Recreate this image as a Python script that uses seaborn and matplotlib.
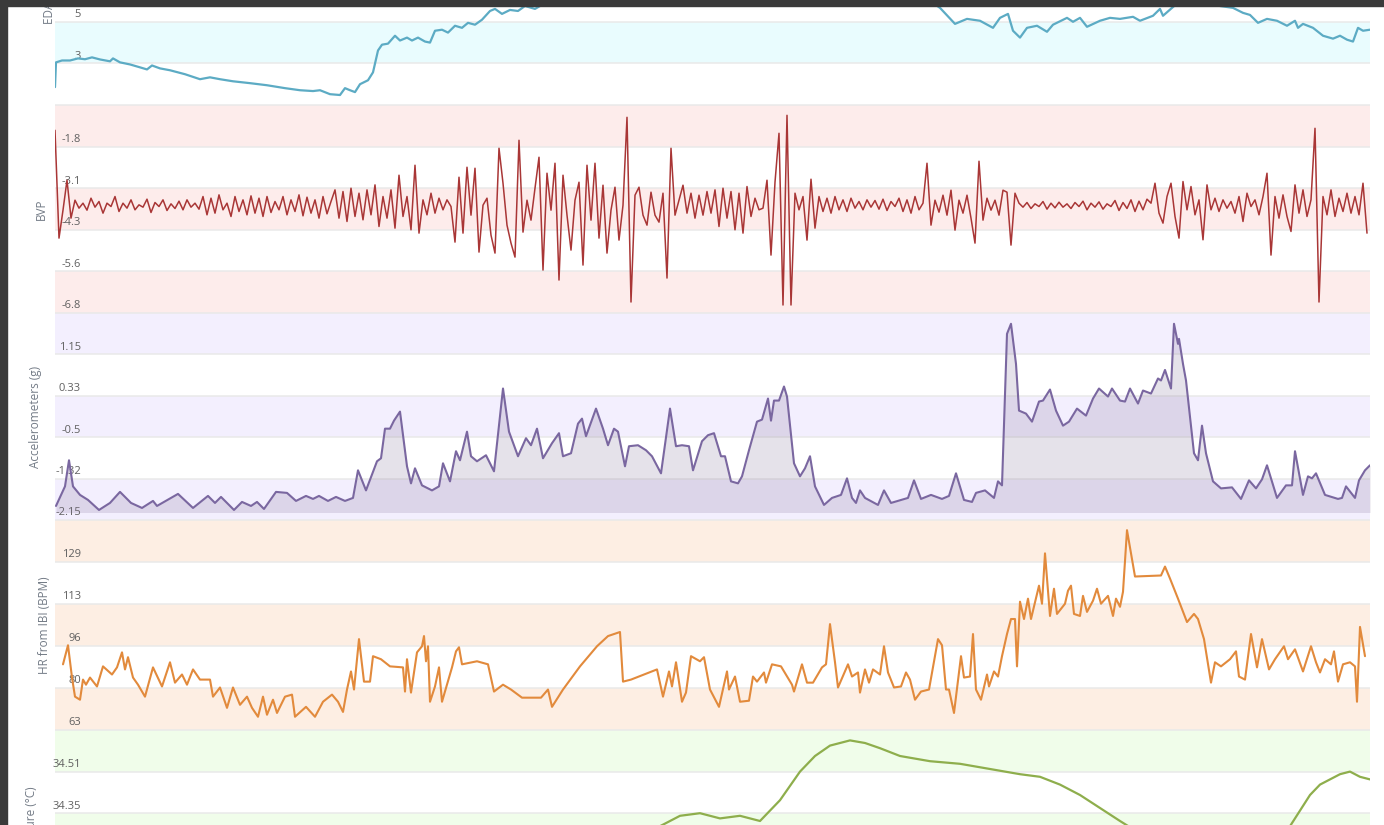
import numpy as np
import matplotlib
matplotlib.use("Agg")
import matplotlib.pyplot as plt
from matplotlib.patches import Rectangle
import seaborn as sns

# -----------------------------------------------------------------------------
# Data (time in seconds, values in sensor units)
# -----------------------------------------------------------------------------
EDA_POINTS = [
    (0, 1.86), (1, 3.05), (7, 3.14), (15, 3.14), (23, 3.24), (30, 3.20), (37, 3.29),
    (45, 3.19), (55, 3.10), (58, 3.24), (65, 3.05), (75, 2.95), (85, 2.81), (92, 2.71),
    (97, 2.90), (105, 2.76), (115, 2.67), (130, 2.48), (145, 2.24), (155, 2.33),
    (165, 2.24), (178, 2.14), (195, 2.05), (212, 1.95), (230, 1.81), (245, 1.71),
    (258, 1.67), (265, 1.71), (275, 1.52), (285, 1.48), (290, 1.81), (295, 1.71),
    (300, 1.62), (305, 2.00), (313, 2.19), (318, 2.57), (323, 3.62), (327, 3.90),
    (333, 3.95), (340, 4.33), (345, 4.10), (352, 4.24), (357, 4.10), (363, 4.24),
    (370, 4.05), (375, 4.00), (380, 4.57), (387, 4.62), (393, 4.48), (400, 4.81),
    (407, 4.71), (413, 4.95), (420, 4.86), (427, 5.10), (435, 5.52), (440, 5.62),
    (447, 5.38), (455, 5.57), (463, 5.52), (470, 5.76), (480, 5.62), (490, 5.90),
    (505, 6.20), (545, 6.50), (645, 6.80), (745, 7.00), (845, 6.60), (875, 6.00),
    (885, 5.67), (900, 4.90), (912, 5.14), (925, 5.05), (938, 4.71), (945, 5.19),
    (953, 5.38), (958, 4.57), (965, 4.24), (972, 4.71), (982, 4.81), (992, 4.52),
    (998, 4.86), (1012, 5.19), (1018, 5.00), (1025, 5.19), (1032, 4.76), (1045, 5.05),
    (1055, 5.19), (1065, 5.14), (1078, 5.24), (1085, 5.05), (1098, 5.29), (1105, 5.62),
    (1108, 5.29), (1117, 5.67), (1130, 6.20), (1145, 6.40), (1160, 6.00), (1165, 5.76),
    (1178, 5.67), (1188, 5.43), (1195, 5.33), (1203, 4.95), (1212, 5.14), (1222, 5.05),
    (1232, 4.81), (1240, 5.05), (1243, 4.71), (1248, 4.90), (1258, 4.71), (1268, 4.33),
    (1278, 4.19), (1285, 4.33), (1292, 4.14), (1298, 4.05), (1303, 4.71), (1308, 4.57),
    (1315, 4.62),
]

# BVP sampled every 4 s
BVP_STEP = 4
BVP_VALUES = [
    -1.31, -4.55, -3.71, -2.81, -3.95,
    -3.41, -3.65, -3.50, -3.71, -3.35, -3.62, -3.45, -3.80, -3.50, -3.60,
    -3.30, -3.75, -3.50, -3.65, -3.40, -3.70, -3.55, -3.62, -3.38, -3.78,
    -3.48, -3.60, -3.40, -3.72, -3.52, -3.66, -3.44, -3.70, -3.40, -3.62,
    -3.50, -3.68,
    -3.30, -3.85, -3.35, -3.80, -3.25, -3.70, -3.50, -3.90, -3.30, -3.75,
    -3.40, -3.85, -3.28, -3.80, -3.35, -3.90, -3.30, -3.78, -3.45, -3.70,
    -3.30, -3.85, -3.40, -3.75, -3.25, -3.88, -3.32, -3.80, -3.40, -3.95,
    -3.30, -3.82, -3.45,
    -3.10, -3.95, -3.15, -4.05, -3.05, -3.90, -3.20, -4.00, -3.10, -3.85, -2.95,
    -4.20, -3.30, -3.95, -3.10, -4.25, -2.66, -3.90, -3.30, -4.30, -2.36,
    -4.40, -3.40, -3.85, -3.20, -3.80, -3.35, -3.70, -3.40, -3.60,
    -4.67, -2.72, -4.40, -2.42, -3.86, -2.45, -4.97, -3.56, -3.35, -4.46,
    -5.00, -1.85, -2.90, -4.16, -4.70, -5.12, -1.61, -4.37, -3.41, -4.01,
    -3.05, -2.12, -5.51, -2.60, -3.71, -2.30, -5.81, -2.66, -3.86, -4.91,
    -3.41, -2.87, -5.36, -2.36, -4.01, -2.30, -4.55, -2.96, -5.00, -3.71,
    -3.02, -4.61, -3.56, -0.92, -6.47, -3.26, -3.02, -3.86, -4.16, -3.17,
    -3.86, -4.07, -3.20, -5.75, -1.85, -3.86, -3.41, -2.96,
    -3.80, -3.20, -3.95, -3.26, -3.86, -3.15, -3.80, -3.10, -4.20, -3.05,
    -3.95, -3.15, -4.30, -3.20, -4.40, -3.00, -3.90, -3.35, -3.70, -3.65,
    -2.81, -5.06, -2.87, -1.40, -6.56, -0.86, -6.56,
    -3.20, -3.70, -3.30, -4.61, -2.78, -4.25, -3.30, -3.75, -3.35, -3.80,
    -3.30, -3.70, -3.40, -3.75, -3.35, -3.65, -3.45, -3.70, -3.40, -3.62,
    -3.42, -3.68, -3.38, -3.72, -3.45, -3.60, -3.35, -3.75, -3.40, -3.80,
    -3.30, -3.70, -3.50,
    -2.30, -4.16, -3.41, -3.77, -3.26, -3.86, -3.11, -4.31, -3.41, -3.80,
    -3.26, -3.95, -4.70, -2.24, -4.01, -3.35, -3.71, -3.41, -3.86, -3.11,
    -3.17, -4.76, -3.20,
    -3.50, -3.62, -3.48, -3.66, -3.52, -3.60, -3.45, -3.68, -3.50, -3.64,
    -3.47, -3.62, -3.52, -3.66, -3.48, -3.60, -3.44, -3.70, -3.50, -3.62,
    -3.46, -3.68, -3.52, -3.60, -3.42, -3.72, -3.48, -3.66, -3.40, -3.75,
    -3.44, -3.70, -3.38,
    -3.50, -2.90, -3.80, -4.10, -3.30, -2.90, -3.90, -4.55, -2.85, -3.70,
    -3.00, -3.85, -3.40, -4.60, -2.95,
    -3.70, -3.35, -3.75, -3.40, -3.65, -3.45, -3.80, -3.30, -4.05, -3.20,
    -3.60, -3.40, -3.85, -3.30,
    -2.60, -5.06,
    -3.30, -3.95, -3.25, -3.90, -4.35, -2.95, -3.80, -3.10, -3.90, -3.40,
    -1.25, -6.47,
    -3.30, -3.85, -3.10, -3.90, -3.35, -3.75, -3.20, -3.80, -3.30, -3.85,
    -2.90, -4.40,
]

ACC_POINTS = [
    (1, -1.87), (10, -1.48), (14, -0.96), (18, -1.48), (25, -1.65), (33, -1.75),
    (44, -1.95), (55, -1.81), (65, -1.59), (76, -1.81), (87, -1.91), (98, -1.77),
    (102, -1.87), (123, -1.63), (138, -1.91), (153, -1.67), (160, -1.81), (166, -1.69),
    (179, -1.95), (187, -1.79), (196, -1.87), (202, -1.79), (209, -1.93), (221, -1.59),
    (232, -1.61), (241, -1.77), (251, -1.67), (258, -1.73), (264, -1.67), (273, -1.77),
    (281, -1.69), (290, -1.77), (298, -1.71), (303, -1.16), (311, -1.56), (322, -0.98),
    (326, -0.92), (330, -0.33), (335, -0.33), (339, -0.17), (345, 0.01), (352, -1.08),
    (356, -1.42), (360, -1.12), (367, -1.46), (377, -1.56), (384, -1.48), (388, -1.02),
    (395, -1.38), (401, -0.78), (405, -0.96), (412, -0.39), (416, -0.88), (422, -0.98),
    (431, -0.86), (439, -1.18), (448, 0.47), (454, -0.39), (463, -0.88), (471, -0.52),
    (476, -0.66), (482, -0.33), (488, -0.92), (497, -0.62), (504, -0.42), (508, -0.88),
    (516, -0.82), (523, -0.23), (527, -0.13), (531, -0.48), (541, 0.07), (548, -0.33),
    (553, -0.66), (559, -0.33), (563, -0.39), (570, -1.08), (574, -0.68), (583, -0.66),
    (591, -0.76), (597, -0.88), (606, -1.22), (615, 0.07), (621, -0.68), (627, -0.66),
    (634, -0.68), (638, -1.16), (647, -0.58), (653, -0.46), (659, -0.42), (666, -0.88),
    (670, -0.88), (676, -1.38), (683, -1.42), (687, -1.28), (694, -0.76), (702, -0.19),
    (707, -0.15), (713, 0.27), (716, -0.17), (719, 0.23), (724, 0.23), (729, 0.51),
    (732, 0.31), (739, -1.02), (745, -1.28), (750, -1.12), (755, -0.88), (760, -1.48),
    (769, -1.85), (777, -1.71), (786, -1.65), (792, -1.32), (797, -1.71), (801, -1.81),
    (805, -1.56), (810, -1.71), (823, -1.85), (829, -1.56), (836, -1.81), (853, -1.71),
    (859, -1.36), (866, -1.73), (876, -1.65), (887, -1.73), (894, -1.67), (901, -1.22),
    (909, -1.75), (917, -1.79), (921, -1.61), (930, -1.56), (939, -1.71), (943, -1.38),
    (947, -1.46), (952, 1.56), (956, 1.76), (961, 0.96), (964, 0.03), (971, -0.03),
    (977, -0.19), (984, 0.21), (988, 0.23), (995, 0.45), (1001, 0.03), (1008, -0.27),
    (1014, -0.19), (1022, 0.07), (1031, -0.07), (1038, 0.27), (1044, 0.47), (1053, 0.31),
    (1057, 0.47), (1065, 0.23), (1070, 0.21), (1075, 0.47), (1083, 0.17), (1088, 0.43),
    (1096, 0.37), (1103, 0.67), (1106, 0.63), (1110, 0.84), (1116, 0.47), (1119, 1.76),
    (1123, 1.36), (1124, 1.46), (1128, 0.96), (1131, 0.63), (1139, -0.82), (1143, -0.96),
    (1147, -0.27), (1151, -0.82), (1158, -1.38), (1166, -1.52), (1177, -1.50),
    (1186, -1.73), (1194, -1.36), (1201, -1.52), (1207, -1.34), (1212, -1.06),
    (1222, -1.71), (1231, -1.46), (1237, -1.46), (1240, -0.78), (1248, -1.65),
    (1253, -1.28), (1257, -1.32), (1261, -1.22), (1270, -1.65), (1283, -1.73),
    (1287, -1.71), (1291, -1.48), (1300, -1.71), (1304, -1.36), (1310, -1.16),
    (1315, -1.06),
]

HR_POINTS = [
    (8, 88.8), (13, 96.3), (17, 83.6), (20, 76.1), (25, 74.9), (28, 82.8), (31, 80.8),
    (35, 83.6), (42, 80.1), (48, 88.0), (57, 84.8), (62, 87.6), (67, 93.5), (70, 86.8),
    (73, 91.6), (78, 83.6), (83, 80.8), (90, 76.1), (98, 87.6), (107, 80.1), (115, 89.6),
    (120, 81.6), (127, 84.8), (132, 80.8), (138, 86.8), (145, 82.8), (155, 82.8),
    (158, 76.1), (165, 79.7), (172, 71.7), (178, 79.7), (185, 72.9), (192, 76.1),
    (197, 71.7), (203, 68.2), (208, 76.1), (212, 69.0), (218, 74.9), (222, 69.7),
    (230, 76.1), (237, 76.9), (240, 68.2), (251, 72.1), (260, 68.2), (268, 74.1),
    (277, 76.9), (283, 74.1), (288, 70.1), (292, 78.9), (296, 86.0), (299, 78.9),
    (304, 98.7), (309, 82.0), (315, 82.0), (318, 92.0), (326, 90.8), (335, 88.0),
    (348, 87.6), (350, 78.1), (352, 90.8), (356, 77.7), (362, 93.5), (367, 95.9),
    (369, 99.9), (371, 90.0), (373, 95.9), (375, 74.1), (380, 80.1), (384, 87.6),
    (387, 74.1), (392, 80.8), (397, 87.6), (401, 93.9), (404, 95.5), (407, 88.8),
    (422, 90.0), (433, 88.8), (439, 78.1), (448, 80.8), (456, 78.9), (467, 75.7),
    (486, 75.7), (493, 78.9), (497, 72.1), (508, 78.9), (525, 88.0), (542, 95.9),
    (553, 99.9), (565, 101.5), (568, 82.0), (576, 82.8), (597, 86.0), (602, 86.8),
    (608, 76.1), (614, 86.0), (617, 80.1), (621, 89.6), (627, 74.1), (631, 77.7),
    (636, 92.0), (645, 90.0), (649, 91.6), (655, 78.9), (664, 72.1), (672, 86.0),
    (674, 78.9), (680, 84.0), (685, 74.1), (694, 74.5), (698, 84.0), (702, 82.0),
    (709, 85.6), (711, 81.6), (717, 88.8), (726, 88.0), (737, 80.8), (739, 78.1),
    (747, 88.8), (752, 81.6), (758, 81.6), (767, 87.6), (771, 88.8), (775, 104.6),
    (780, 89.6), (783, 79.7), (793, 88.8), (797, 84.0), (803, 85.6), (805, 77.7),
    (810, 86.8), (814, 81.6), (818, 86.8), (825, 84.8), (829, 95.9), (833, 85.6),
    (839, 79.7), (846, 80.1), (851, 85.6), (855, 82.8), (860, 74.9), (866, 78.1),
    (874, 78.9), (883, 98.7), (887, 96.3), (891, 78.9), (894, 78.9), (899, 69.7),
    (906, 92.0), (909, 83.6), (915, 84.0), (918, 100.7), (921, 78.9), (926, 74.9),
    (932, 84.8), (934, 80.1), (939, 86.0), (943, 84.0), (947, 92.0), (952, 100.7),
    (956, 106.6), (960, 106.6), (962, 88.0), (965, 113.4), (969, 106.6), (973, 114.6),
    (976, 106.6), (984, 119.7), (987, 112.6), (990, 132.4), (995, 107.8), (999, 118.5),
    (1002, 108.6), (1010, 112.6), (1013, 117.7), (1016, 119.7), (1019, 108.6),
    (1025, 107.8), (1028, 115.7), (1032, 109.4), (1038, 113.8), (1042, 118.5),
    (1046, 112.6), (1053, 115.7), (1058, 107.8), (1061, 114.6), (1065, 111.4),
    (1068, 117.3), (1072, 141.5), (1080, 123.3), (1106, 123.7), (1110, 127.2),
    (1115, 122.5), (1123, 114.6), (1132, 105.4), (1139, 108.6), (1143, 106.6),
    (1149, 98.7), (1156, 81.6), (1160, 89.6), (1166, 88.0), (1175, 90.8), (1181, 93.9),
    (1184, 84.0), (1190, 82.8), (1196, 100.7), (1202, 87.6), (1207, 98.7), (1214, 86.8),
    (1220, 90.8), (1229, 95.9), (1233, 90.8), (1240, 94.7), (1248, 86.0), (1256, 95.9),
    (1261, 89.6), (1265, 85.6), (1270, 90.8), (1276, 88.8), (1279, 93.9), (1283, 82.0),
    (1288, 88.8), (1295, 89.6), (1300, 88.0), (1302, 74.1), (1305, 103.5), (1310, 92.0),
]

TEMP_POINTS = [
    (0, 34.05), (100, 34.08), (200, 34.10), (300, 34.12), (400, 34.16), (500, 34.20),
    (560, 34.24), (605, 34.30), (625, 34.34), (645, 34.35), (665, 34.33), (685, 34.34),
    (705, 34.32), (725, 34.40), (745, 34.51), (760, 34.57), (775, 34.61), (795, 34.63),
    (810, 34.62), (825, 34.60), (845, 34.57), (875, 34.55), (905, 34.54), (935, 34.52),
    (965, 34.50), (985, 34.49), (1005, 34.46), (1025, 34.42), (1045, 34.37),
    (1065, 34.32), (1090, 34.26), (1150, 34.20), (1200, 34.22), (1235, 34.30),
    (1255, 34.42), (1265, 34.46), (1285, 34.50), (1295, 34.51), (1305, 34.49),
    (1315, 34.48),
]

# axis ticks / labels for each channel (labels scrolled out of view are left blank)
EDA_TICKS = [1, 3, 5, 7, 9]
EDA_LABELS = ["", "3", "5", "", ""]
BVP_TICKS = [-6.8, -5.55, -4.3, -3.05, -1.8]
BVP_LABELS = ["-6.8", "-5.6", "-4.3", "-3.1", "-1.8"]
ACC_TICKS = [-2.15, -1.325, -0.5, 0.325, 1.15]
ACC_LABELS = ["-2.15", "-1.32", "-0.5", "0.33", "1.15"]
HR_TICKS = [63, 79.5, 96, 112.5, 129]
HR_LABELS = ["63", "80", "96", "113", "129"]
TEMP_TICKS = [33.87, 34.03, 34.19, 34.35, 34.51]
TEMP_LABELS = ["", "", "", "34.35", "34.51"]

# -----------------------------------------------------------------------------
# Layout (pixels of the 1384x825 canvas)
# -----------------------------------------------------------------------------
FIG_W, FIG_H = 1384, 825
PLOT_LEFT, PLOT_RIGHT = 55, 1370
TIME_MAX = 1315
LABEL_RIGHT = 81
GRID_COLOR = "#e9e9e9"
TEXT_COLOR = "#606060"

sns.set_style("white")
plt.rcParams["font.family"] = ["Open Sans", "DejaVu Sans"]

PANELS = [
    dict(name="EDA (\u03bcS)", top=-103, bottom=105, step=2.0, ticks=EDA_TICKS,
         labels=EDA_LABELS, bands=[1, 3], band_color="#e9fcfe",
         color="#5cabc4", lw=1.6, title_x=50, points=EDA_POINTS),
    dict(name="BVP", top=105, bottom=313, step=1.25, ticks=BVP_TICKS,
         labels=BVP_LABELS, bands=[0, 2, 4], band_color="#fdeceb",
         color="#a93636", lw=1.1, title_x=41, points=None),
    dict(name="Accelerometers (g)", top=313, bottom=520, step=0.825, ticks=ACC_TICKS,
         labels=ACC_LABELS, bands=[0, 2, 4], band_color="#f3effe",
         color="#7a67a0", lw=1.5, title_x=35, points=ACC_POINTS),
    dict(name="HR from IBI (BPM)", top=520, bottom=730, step=16.5, ticks=HR_TICKS,
         labels=HR_LABELS, bands=[0, 2, 4], band_color="#fdeee3",
         color="#e28a3c", lw=1.5, title_x=44, points=HR_POINTS),
    dict(name="Temperature (\u00b0C)", top=730, bottom=938, step=0.16, ticks=TEMP_TICKS,
         labels=TEMP_LABELS, bands=[0, 2, 4], band_color="#f0fdea",
         color="#8eae4c", lw=1.6, title_x=32, points=TEMP_POINTS),
]

fig = plt.figure(figsize=(FIG_W / 100, FIG_H / 100), dpi=100)
fig.patch.set_facecolor("white")

for p in PANELS:
    rect = [
        PLOT_LEFT / FIG_W,
        1 - p["bottom"] / FIG_H,
        (PLOT_RIGHT - PLOT_LEFT) / FIG_W,
        (p["bottom"] - p["top"]) / FIG_H,
    ]
    ax = fig.add_axes(rect)
    lo = p["ticks"][0]
    ax.set_ylim(lo, lo + 5 * p["step"])
    ax.set_xlim(0, TIME_MAX)
    ax.set_axis_off()

    # alternating plot bands + grid lines
    for k in p["bands"]:
        ax.axhspan(lo + k * p["step"], lo + (k + 1) * p["step"],
                   color=p["band_color"], lw=0, zorder=0)
    for k in range(6):
        ax.axhline(lo + k * p["step"], color=GRID_COLOR, lw=1.1, zorder=1)

    # tick labels sit inside the plot, just above their grid line
    for val, lab in zip(p["ticks"], p["labels"]):
        if not lab:
            continue
        ax.annotate(lab, xy=((LABEL_RIGHT - PLOT_LEFT) / (PLOT_RIGHT - PLOT_LEFT), val),
                    xycoords=("axes fraction", "data"), xytext=(0, 1.2),
                    textcoords="offset points", ha="right", va="bottom",
                    fontsize=8, color=TEXT_COLOR, zorder=2, annotation_clip=False)

    ax.text((p["title_x"] - PLOT_LEFT) / (PLOT_RIGHT - PLOT_LEFT), 0.5, p["name"],
            transform=ax.transAxes, rotation=90, ha="center", va="center",
            fontsize=8.5, color="#737b86", clip_on=False)

    if p["points"] is None:
        t = np.arange(len(BVP_VALUES)) * BVP_STEP
        v = np.array(BVP_VALUES)
    else:
        t, v = np.array(p["points"]).T

    sns.lineplot(x=t, y=v, ax=ax, color=p["color"], linewidth=p["lw"],
                 estimator=None, sort=False, zorder=3)
    if p["name"].startswith("Acc"):
        ax.fill_between(t, v, -2.0, color="#806e96", alpha=0.2, lw=0, zorder=2)

# dark screenshot frame (top and left)
fig.add_artist(Rectangle((0, 1 - 6 / FIG_H), 1, 6 / FIG_H, transform=fig.transFigure,
                         color="#3a3a3a", zorder=10))
fig.add_artist(Rectangle((0, 0), 7 / FIG_W, 1, transform=fig.transFigure,
                         color="#3a3a3a", zorder=10))

fig.savefig("out.png", dpi=100)
